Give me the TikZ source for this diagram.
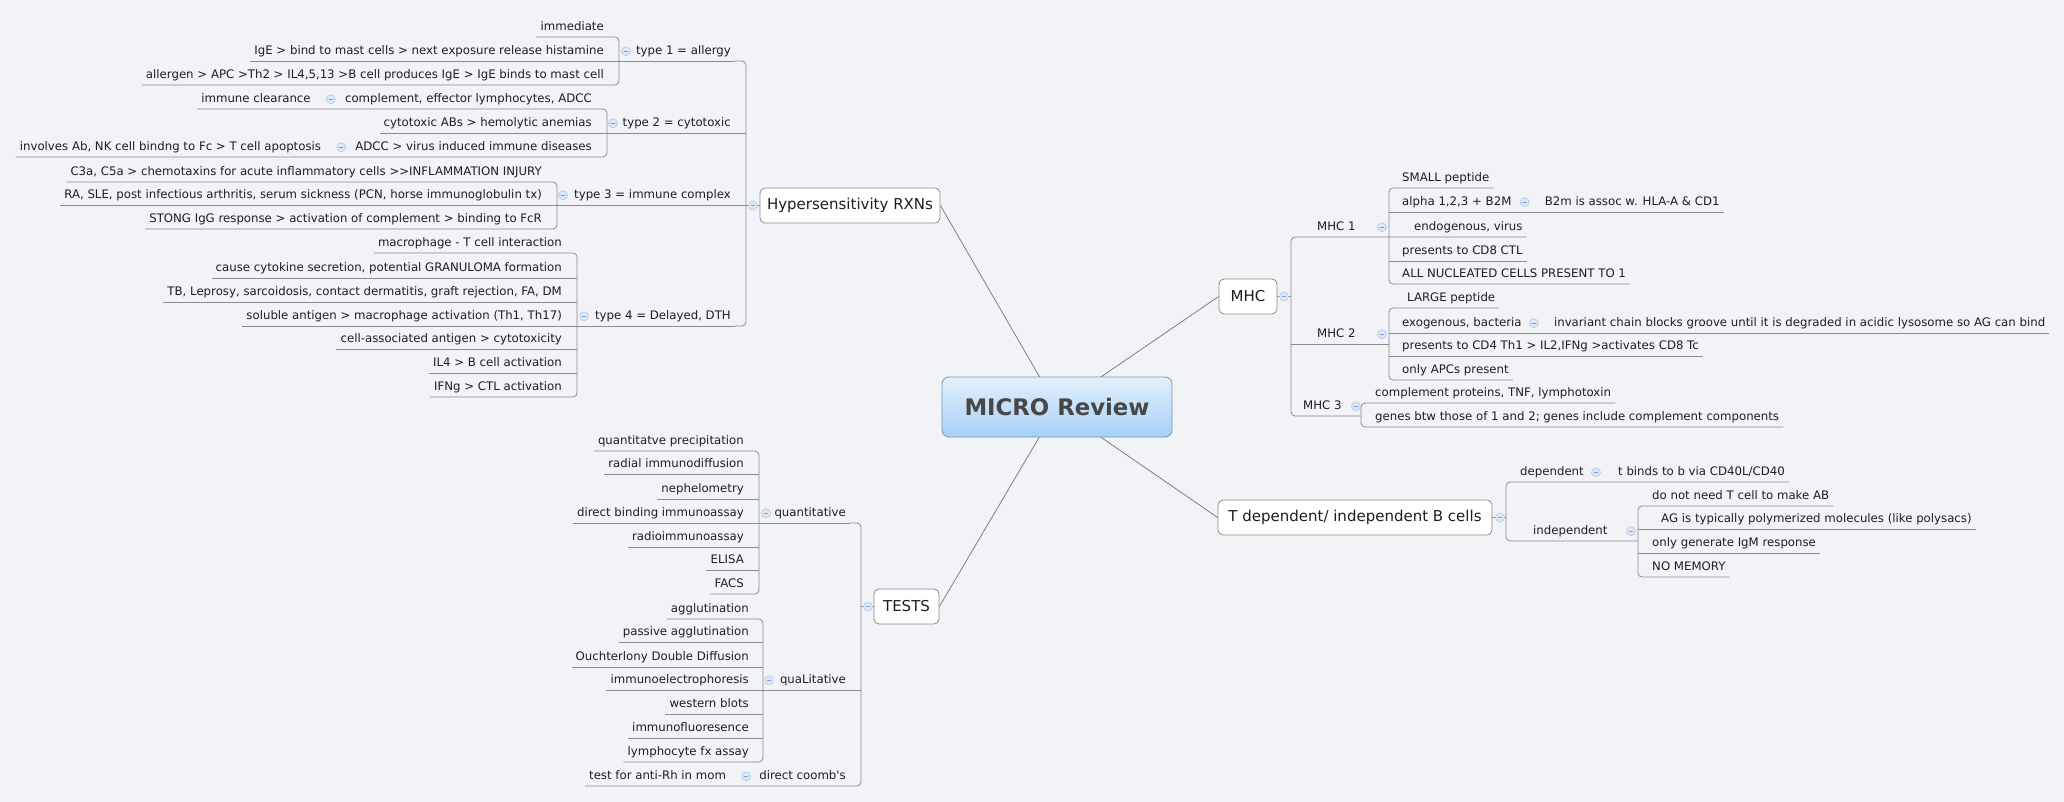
\documentclass[tikz,border=0pt]{standalone}
\usepackage{fontspec}
\setmainfont[Ligatures=TeXOff]{DejaVu Sans}
\usepackage{tikz}
\usetikzlibrary{calc,backgrounds}
\definecolor{mmbg}{HTML}{F2F3F7}
\definecolor{mmline}{HTML}{8C8C8C}
\definecolor{mmspoke}{HTML}{7F7F7F}
\definecolor{mmbox}{HTML}{8A8A8A}
\definecolor{mmtext}{HTML}{1E1E1E}
\definecolor{mmfold}{HTML}{A9C4E6}
\definecolor{mmfoldfill}{HTML}{DCE7F5}
\definecolor{mmminus}{HTML}{7FA3D3}
\definecolor{mmrootline}{HTML}{8096AE}
\definecolor{mmroottop}{HTML}{E3F0FD}
\definecolor{mmrootbot}{HTML}{A5D0F7}
\definecolor{mmroottext}{HTML}{474747}
\newcommand{\leaffont}{\fontsize{11.75}{13}\selectfont}
\newcommand{\topicfont}{\fontsize{15}{18}\selectfont}
\newcommand{\rootfont}{\fontsize{22.8}{26}\selectfont\bfseries}
\tikzset{
  leaf/.style={font=\leaffont, text=mmtext, inner xsep=4pt, inner ysep=4pt, text height=8.5pt, text depth=2.6pt},
  leafL/.style={leaf, anchor=south east},
  leafR/.style={leaf, anchor=south west},
  branch/.style={draw=mmline, line width=0.8pt, rounded corners=4pt},
  spoke/.style={draw=mmspoke, line width=0.8pt},
  topic/.style={draw=mmbox, fill=white, rounded corners=5pt, font=\topicfont, text=mmtext, inner sep=0pt, minimum height=35pt, line width=0.8pt},
  rootbox/.style={draw=mmrootline, rounded corners=7pt, top color=mmroottop, bottom color=mmrootbot, minimum width=230pt, minimum height=60pt, font=\rootfont, text=mmroottext, line width=0.8pt},
  fold/.style={circle, draw=mmfold, fill=mmfoldfill, line width=0.5pt, minimum size=9pt, inner sep=0pt,
    path picture={\draw[mmminus, line width=0.7pt] ([xshift=-2.2pt]path picture bounding box.center) -- ([xshift=2.2pt]path picture bounding box.center);}}
}
\begin{document}
\begin{tikzpicture}[x=1pt,y=-1pt]
\useasboundingbox (0,0) rectangle (2064,802);
% Centre
\node[rootbox] (root) at (1057,407) {MICRO Review};

% Hypersensitivity (left top)
\node[topic, minimum width=180pt] (hyp) at (850,205.5) {Hypersensitivity RXNs};
\coordinate (jH) at (746,0);
\coordinate (j1) at (619,0);
\coordinate (j2) at (607,0);
\coordinate (j3) at (557,0);
\coordinate (j4) at (577,0);
% type 1
\foreach \n/\y/\t in {t1a/37/{immediate}, t1b/61/{IgE > bind to mast cells > next exposure release histamine},
  t1c/85/{allergen > APC >Th2 > IL4,5,13 >B cell produces IgE > IgE binds to mast cell}}
  \node[leafL] (\n) at (608,\y) {\t};
\node[leafL] (t1) at (735,61) {type 1 = allergy};
% type 2
\node[leafL] (t2a) at (596,109) {complement, effector lymphocytes, ADCC};
\node[leafL] (t2b) at (596,133) {cytotoxic ABs > hemolytic anemias};
\node[leafL] (t2c) at (596,157) {ADCC > virus induced immune diseases};
\node[leafL] (t2a1) at ($(t2a.south west)+(-26,0)$) {immune clearance};
\node[leafL] (t2c1) at ($(t2c.south west)+(-26,0)$) {involves Ab, NK cell bindng to Fc > T cell apoptosis};
\node[leafL] (t2) at (735,133) {type 2 = cytotoxic};
% type 3
\foreach \n/\y/\t in {t3a/182/{C3a, C5a > chemotaxins for acute inflammatory cells >>INFLAMMATION INJURY},
  t3b/205/{RA, SLE, post infectious arthritis, serum sickness (PCN, horse immunoglobulin tx)},
  t3c/229/{STONG IgG response > activation of complement > binding to FcR}}
  \node[leafL] (\n) at (546,\y) {\t};
\node[leafL] (t3) at (735,205) {type 3 = immune complex};
% type 4
\foreach \n/\y/\t in {t4a/253/{macrophage - T cell interaction},
  t4b/278/{cause cytokine secretion, potential GRANULOMA formation},
  t4c/302/{TB, Leprosy, sarcoidosis, contact dermatitis, graft rejection, FA, DM},
  t4d/326/{soluble antigen > macrophage activation (Th1, Th17)},
  t4e/349/{cell-associated antigen > cytotoxicity},
  t4f/373/{IL4 > B cell activation}, t4g/397/{IFNg > CTL activation}}
  \node[leafL] (\n) at (566,\y) {\t};
\node[leafL] (t4) at (735,326) {type 4 = Delayed, DTH};
% brackets
\draw[branch] (t1a.south west) -- (t1a.south -| j1) -- (t1c.south -| j1) -- (t1c.south west);
\draw[branch] (t1b.south west) -- (t1.south east);
\draw[branch] (t2a1.south west) -- (t2a.south -| j2) -- (t2c.south -| j2) -- (t2c1.south west);
\draw[branch] (t2b.south west) -- (t2.south -| jH);
\draw[branch] (t3a.south west) -- (t3a.south -| j3) -- (t3c.south -| j3) -- (t3c.south west);
\draw[branch] (t3b.south west) -- (t3.south -| jH);
\draw[branch] (t4a.south west) -- (t4a.south -| j4) -- (t4g.south -| j4) -- (t4g.south west);
\foreach \n in {t4b,t4c,t4e,t4f}
  \draw[branch] (\n.south west) -- (\n.south -| j4);
\draw[branch] (t4d.south west) -- (t4.south east);
\draw[branch] (t1.south east) -- (t1.south -| jH) -- (t4.south -| jH) -- (t4.south east);
\draw[branch] (hyp.west) -- (hyp.west -| jH);
\node[fold] (f-hyp) at ($(hyp.west -| jH)+(7,0)$) {};
\node[fold] (f-t1) at ($(t1.west -| j1)+(7,0)$) {};
\node[fold] (f-t2) at ($(t2.west -| j2)+(6,0)$) {};
\node[fold] (f-t3) at ($(t3.west -| j3)+(6,0)$) {};
\node[fold] (f-t4) at ($(t4.west -| j4)+(7,0)$) {};
\node[fold] (f-t2a) at ($(t2a.west)+(-10,0)$) {};
\node[fold] (f-t2c) at ($(t2c.west)+(-10,0)$) {};

% MHC (right top)
\node[topic, minimum width=58pt] (mhc) at (1248,296.5) {MHC};
\coordinate (jM) at (1291,0);
\coordinate (j11) at (1389,0);
\coordinate (j12) at (1389,0);
\coordinate (j13) at (1361,0);
\node[leafR] (m1) at (1313,237) {MHC 1};
\node[leafR] (m2) at (1313,344) {MHC 2};
\node[leafR] (m3) at (1299,416) {MHC 3};
\node[leafR] (m1a) at (1398,188) {SMALL peptide};
\node[leafR] (m1b) at (1398,212) {alpha 1,2,3 + B2M};
\node[leafR] (m1b1) at ($(m1b.south east)+(25,0)$) {B2m is assoc w. HLA-A \& CD1};
\node[leafR] (m1c) at (1410,237) {endogenous, virus};
\node[leafR] (m1d) at (1398,261) {presents to CD8 CTL};
\node[leafR] (m1e) at (1398,284) {ALL NUCLEATED CELLS PRESENT TO 1};
\node[leafR] (m2a) at (1403,308) {LARGE peptide};
\node[leafR] (m2b) at (1398,333) {exogenous, bacteria};
\node[leafR] (m2b1) at ($(m2b.south east)+(24,0)$) {invariant chain blocks groove until it is degraded in acidic lysosome so AG can bind};
\node[leafR] (m2c) at (1398,356) {presents to CD4 Th1 > IL2,IFNg >activates CD8 Tc};
\node[leafR] (m2d) at (1398,380) {only APCs present};
\node[leafR] (m3a) at (1371,403) {complement proteins, TNF, lymphotoxin};
\node[leafR] (m3b) at (1371,427) {genes btw those of 1 and 2; genes include complement components};
\draw[branch] (mhc.east) -- (mhc.east -| jM);
\draw[branch] (m1c.south east) -- (m1.south -| jM) -- (m3.south -| jM) -- (m3.south -| j13);
\draw[branch] (m2.south -| jM) -- (m2.south -| j12);
\draw[branch] (m1a.south east) -- (m1a.south -| j11) -- (m1e.south -| j11) -- (m1e.south east);
\draw[branch] (m1b.south -| j11) -- (m1b1.south east);
\draw[branch] (m1d.south -| j11) -- (m1d.south east);
\draw[branch] (m2a.south east) -- (m2a.south -| j12) -- (m2d.south -| j12) -- (m2d.south east);
\draw[branch] (m2b.south -| j12) -- (m2b1.south east);
\draw[branch] (m2c.south -| j12) -- (m2c.south east);
\draw[branch] (m3a.south east) -- (m3a.south -| j13) -- (m3b.south -| j13) -- (m3b.south east);
\node[fold] (f-mhc) at ($(mhc.east -| jM)+(-7,0)$) {};
\node[fold] (f-m1) at ($(m1.west -| j11)+(-7,0)$) {};
\node[fold] (f-m2) at ($(m2.west -| j12)+(-7,0)$) {};
\node[fold] (f-m3) at ($(m3.west -| j13)+(-5,0)$) {};
\node[fold] (f-m1b) at ($(m1b.east)+(9,0)$) {};
\node[fold] (f-m2b) at ($(m2b.east)+(8,0)$) {};

% TESTS (left bottom)
\node[topic, minimum width=65pt] (tests) at (906.5,606.5) {TESTS};
\coordinate (jT) at (861,0);
\coordinate (jq) at (759,0);
\coordinate (jl) at (763,0);
\node[leafL] (q) at (850,523) {quantitative};
\node[leafL] (l) at (850,690) {quaLitative};
\node[leafL] (dc) at (850,786) {direct coomb's};
\node[leafL] (dc1) at ($(dc.south west)+(-25,0)$) {test for anti-Rh in mom};
\foreach \n/\y/\t in {qa/451/{quantitatve precipitation}, qb/474/{radial immunodiffusion},
  qc/499/{nephelometry}, qd/523/{direct binding immunoassay}, qe/547/{radioimmunoassay},
  qf/570/{ELISA}, qg/594/{FACS}}
  \node[leafL] (\n) at (748,\y) {\t};
\foreach \n/\y/\t in {la/619/{agglutination}, lb/642/{passive agglutination},
  lc/667/{Ouchterlony Double Diffusion}, ld/690/{immunoelectrophoresis}, le/714/{western blots},
  lf/738/{immunofluoresence}, lg/762/{lymphocyte fx assay}}
  \node[leafL] (\n) at (753,\y) {\t};
\draw[branch] (qa.south west) -- (qa.south -| jq) -- (qg.south -| jq) -- (qg.south west);
\foreach \n in {qb,qc,qe,qf}
  \draw[branch] (\n.south west) -- (\n.south -| jq);
\draw[branch] (la.south west) -- (la.south -| jl) -- (lg.south -| jl) -- (lg.south west);
\foreach \n in {lb,lc,le,lf}
  \draw[branch] (\n.south west) -- (\n.south -| jl);
\draw[branch] (qd.south west) -- (q.south east);
\draw[branch] (ld.south west) -- (l.south -| jT);
\draw[branch] (q.south east) -- (q.south -| jT) -- (dc.south -| jT) -- (dc1.south west);
\draw[branch] (tests.west) -- (tests.west -| jT);
\node[fold] (f-tests) at ($(tests.west -| jT)+(7,0)$) {};
\node[fold] (f-q) at ($(q.west -| jq)+(7,0)$) {};
\node[fold] (f-l) at ($(l.west -| jl)+(6,0)$) {};
\node[fold] (f-dc) at ($(dc.west)+(-9,0)$) {};

% T dependent / independent (right bottom)
\node[topic, minimum width=274pt] (tdep) at (1355,517.5) {T dependent/ independent B cells};
\coordinate (jB) at (1506,0);
\coordinate (jI) at (1638,0);
\node[leafR] (dep) at (1516,482) {dependent};
\node[leafR] (dep1) at ($(dep.south east)+(26,0)$) {t binds to b via CD40L/CD40};
\node[leafR] (ind) at (1529,541) {independent};
\node[leafR] (ia) at (1648,506) {do not need T cell to make AB};
\node[leafR] (ib) at (1657,529) {AG is typically polymerized molecules (like polysacs)};
\node[leafR] (ic) at (1648,553) {only generate IgM response};
\node[leafR] (id) at (1648,577) {NO MEMORY};
\draw[branch] (dep1.south east) -- (dep.south -| jB) -- (ind.south -| jB) -- (ind.south -| jI);
\draw[branch] (tdep.east) -- (tdep.east -| jB);
\draw[branch] (ia.south east) -- (ia.south -| jI) -- (id.south -| jI) -- (id.south east);
\draw[branch] (ib.south -| jI) -- (ib.south east);
\draw[branch] (ic.south -| jI) -- (ic.south east);
\node[fold] (f-tdep) at ($(tdep.east -| jB)+(-6,0)$) {};
\node[fold] (f-dep) at ($(dep.east)+(8,0)$) {};
\node[fold] (f-ind) at ($(ind.west -| jI)+(-7,0)$) {};

% spokes from the centre
\begin{scope}[on background layer]
\fill[mmbg] (0,0) rectangle (2064,802);
\draw[spoke] (root.center) -- (hyp.east);
\draw[spoke] (root.center) -- (mhc.west);
\draw[spoke] (root.center) -- (tests.east);
\draw[spoke] (root.center) -- (tdep.west);
\end{scope}
\end{tikzpicture}
\end{document}
